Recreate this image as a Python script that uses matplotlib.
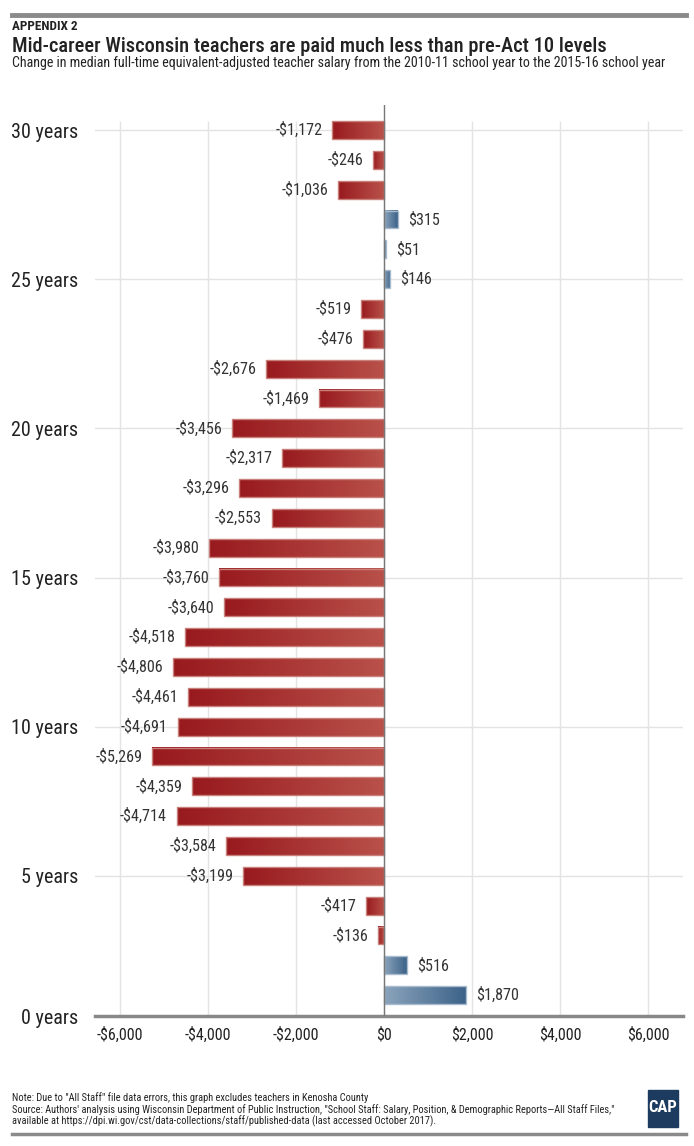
import numpy as np
import matplotlib
matplotlib.use("Agg")
import matplotlib.pyplot as plt
from matplotlib.colors import LinearSegmentedColormap
from matplotlib.patches import Rectangle

years = list(range(1, 31))
values = [1870, 516, -136, -417, -3199, -3584, -4714, -4359, -5269, -4691,
          -4461, -4806, -4518, -3640, -3760, -3980, -2553, -3296, -2317, -3456,
          -1469, -2676, -476, -519, 146, 51, 315, -1036, -246, -1172]
ytick_pos = [0.3, 5, 10, 15, 20, 25, 30]
ytick_labels = ["0 years", "5 years", "10 years", "15 years", "20 years", "25 years", "30 years"]
xticks = [-6000, -4000, -2000, 0, 2000, 4000, 6000]
xtick_labels = ["-$6,000", "-$4,000", "-$2,000", "$0", "$2,000", "$4,000", "$6,000"]

plt.rcParams['font.family'] = ['Roboto Condensed', 'Open Sans Condensed', 'Lato', 'DejaVu Sans']

fig = plt.figure(figsize=(6.94, 11.46), dpi=100)
ax = fig.add_axes([95/694, 1 - 1016/1146, (683-95)/694, (1016-105)/1146])

red = LinearSegmentedColormap.from_list("r", ["#981a1e", "#b9514a"])
blue = LinearSegmentedColormap.from_list("b", ["#8ba4bc", "#3c6288"])
grad = np.linspace(0, 1, 256).reshape(1, -1)
h = 0.6

xmin, xmax = -6570, 6795
ymin, ymax = 0.3, 30.84

for x in xticks:
    ax.plot([x, x], [ymin, 30.27], color="#e3e3e3", lw=1, zorder=0)
for y in ytick_pos[1:]:
    ax.plot([xmin, xmax], [y, y], color="#e3e3e3", lw=1, zorder=0)

for y, v in zip(years, values):
    x0, x1 = min(0, v), max(0, v)
    cm = red if v < 0 else blue
    ax.imshow(grad, extent=[x0, x1, y - h/2, y + h/2], aspect='auto', cmap=cm,
              interpolation='bilinear', zorder=2)
    ax.add_patch(Rectangle((x0, y - h/2), x1 - x0, h, fill=False,
                           edgecolor=("#c9807a" if v < 0 else "#a9bccd"), lw=1.0, zorder=3))
    lab = ("-$" if v < 0 else "$") + f"{abs(v):,}"
    if v < 0:
        ax.text(v - 220, y, lab, ha='right', va='center', fontsize=11.6, color="#333333")
    else:
        ax.text(v + 230, y, lab, ha='left', va='center', fontsize=11.6, color="#333333")

ax.plot([0, 0], [ymin, ymax], color="#777777", lw=1, zorder=4)

ax.set_xlim(xmin, xmax)
ax.set_ylim(ymin, ymax)
for s in ["top", "right", "left"]:
    ax.spines[s].set_visible(False)
ax.spines["bottom"].set_color("#888888")
ax.spines["bottom"].set_linewidth(2.5)
ax.set_xticks(xticks)
ax.set_xticklabels(xtick_labels, fontsize=11.5, color="#222222")
ax.set_yticks(ytick_pos)
ax.set_yticklabels(ytick_labels, fontsize=14.5, color="#222222")
ax.tick_params(axis='both', length=0)
ax.tick_params(axis='y', pad=12)
ax.tick_params(axis='x', pad=8)

# header
fig.add_artist(plt.Line2D([12/694, 686/694], [1 - 15/1146]*2, color="#8a8a8a", lw=3.5))
fig.text(12/694, 1 - 26/1146, "APPENDIX 2", fontsize=9.5, fontweight='bold', color="#222222", va='center')
fig.text(12/694, 1 - 47/1146, "Mid-career Wisconsin teachers are paid much less than pre-Act 10 levels",
         fontsize=14.8, fontweight='medium', color="#222222", va='center')
fig.text(12/694, 1 - 63/1146,
         "Change in median full-time equivalent-adjusted teacher salary from the 2010-11 school year to the 2015-16 school year",
         fontsize=10.1, color="#222222", va='center')

# footer
fy = [1098, 1110, 1121]
fig.text(12/694, 1 - fy[0]/1146, "Note: Due to \"All Staff\" file data errors, this graph excludes teachers in Kenosha County",
         fontsize=7.5, color="#222222", va='center')
fig.text(12/694, 1 - fy[1]/1146,
         "Source: Authors' analysis using Wisconsin Department of Public Instruction, \"School Staff: Salary, Position, & Demographic Reports\u2014All Staff Files,\"",
         fontsize=7.5, color="#222222", va='center')
fig.text(12/694, 1 - fy[2]/1146,
         "available at https://dpi.wi.gov/cst/data-collections/staff/published-data (last accessed October 2017).",
         fontsize=7.5, color="#222222", va='center')
fig.add_artist(plt.Line2D([12/694, 686/694], [1 - 1134/1146]*2, color="#8a8a8a", lw=2.5))
fig.add_artist(Rectangle((648/694, 1 - 1127/1146), 30/694, 37/1146, color="#1d3a5f",
                         transform=fig.transFigure))
fig.text(663/694, 1 - 1107/1146, "CAP", fontsize=12, fontweight='bold', color="white",
         ha='center', va='center')

fig.savefig("out.png", dpi=100)
